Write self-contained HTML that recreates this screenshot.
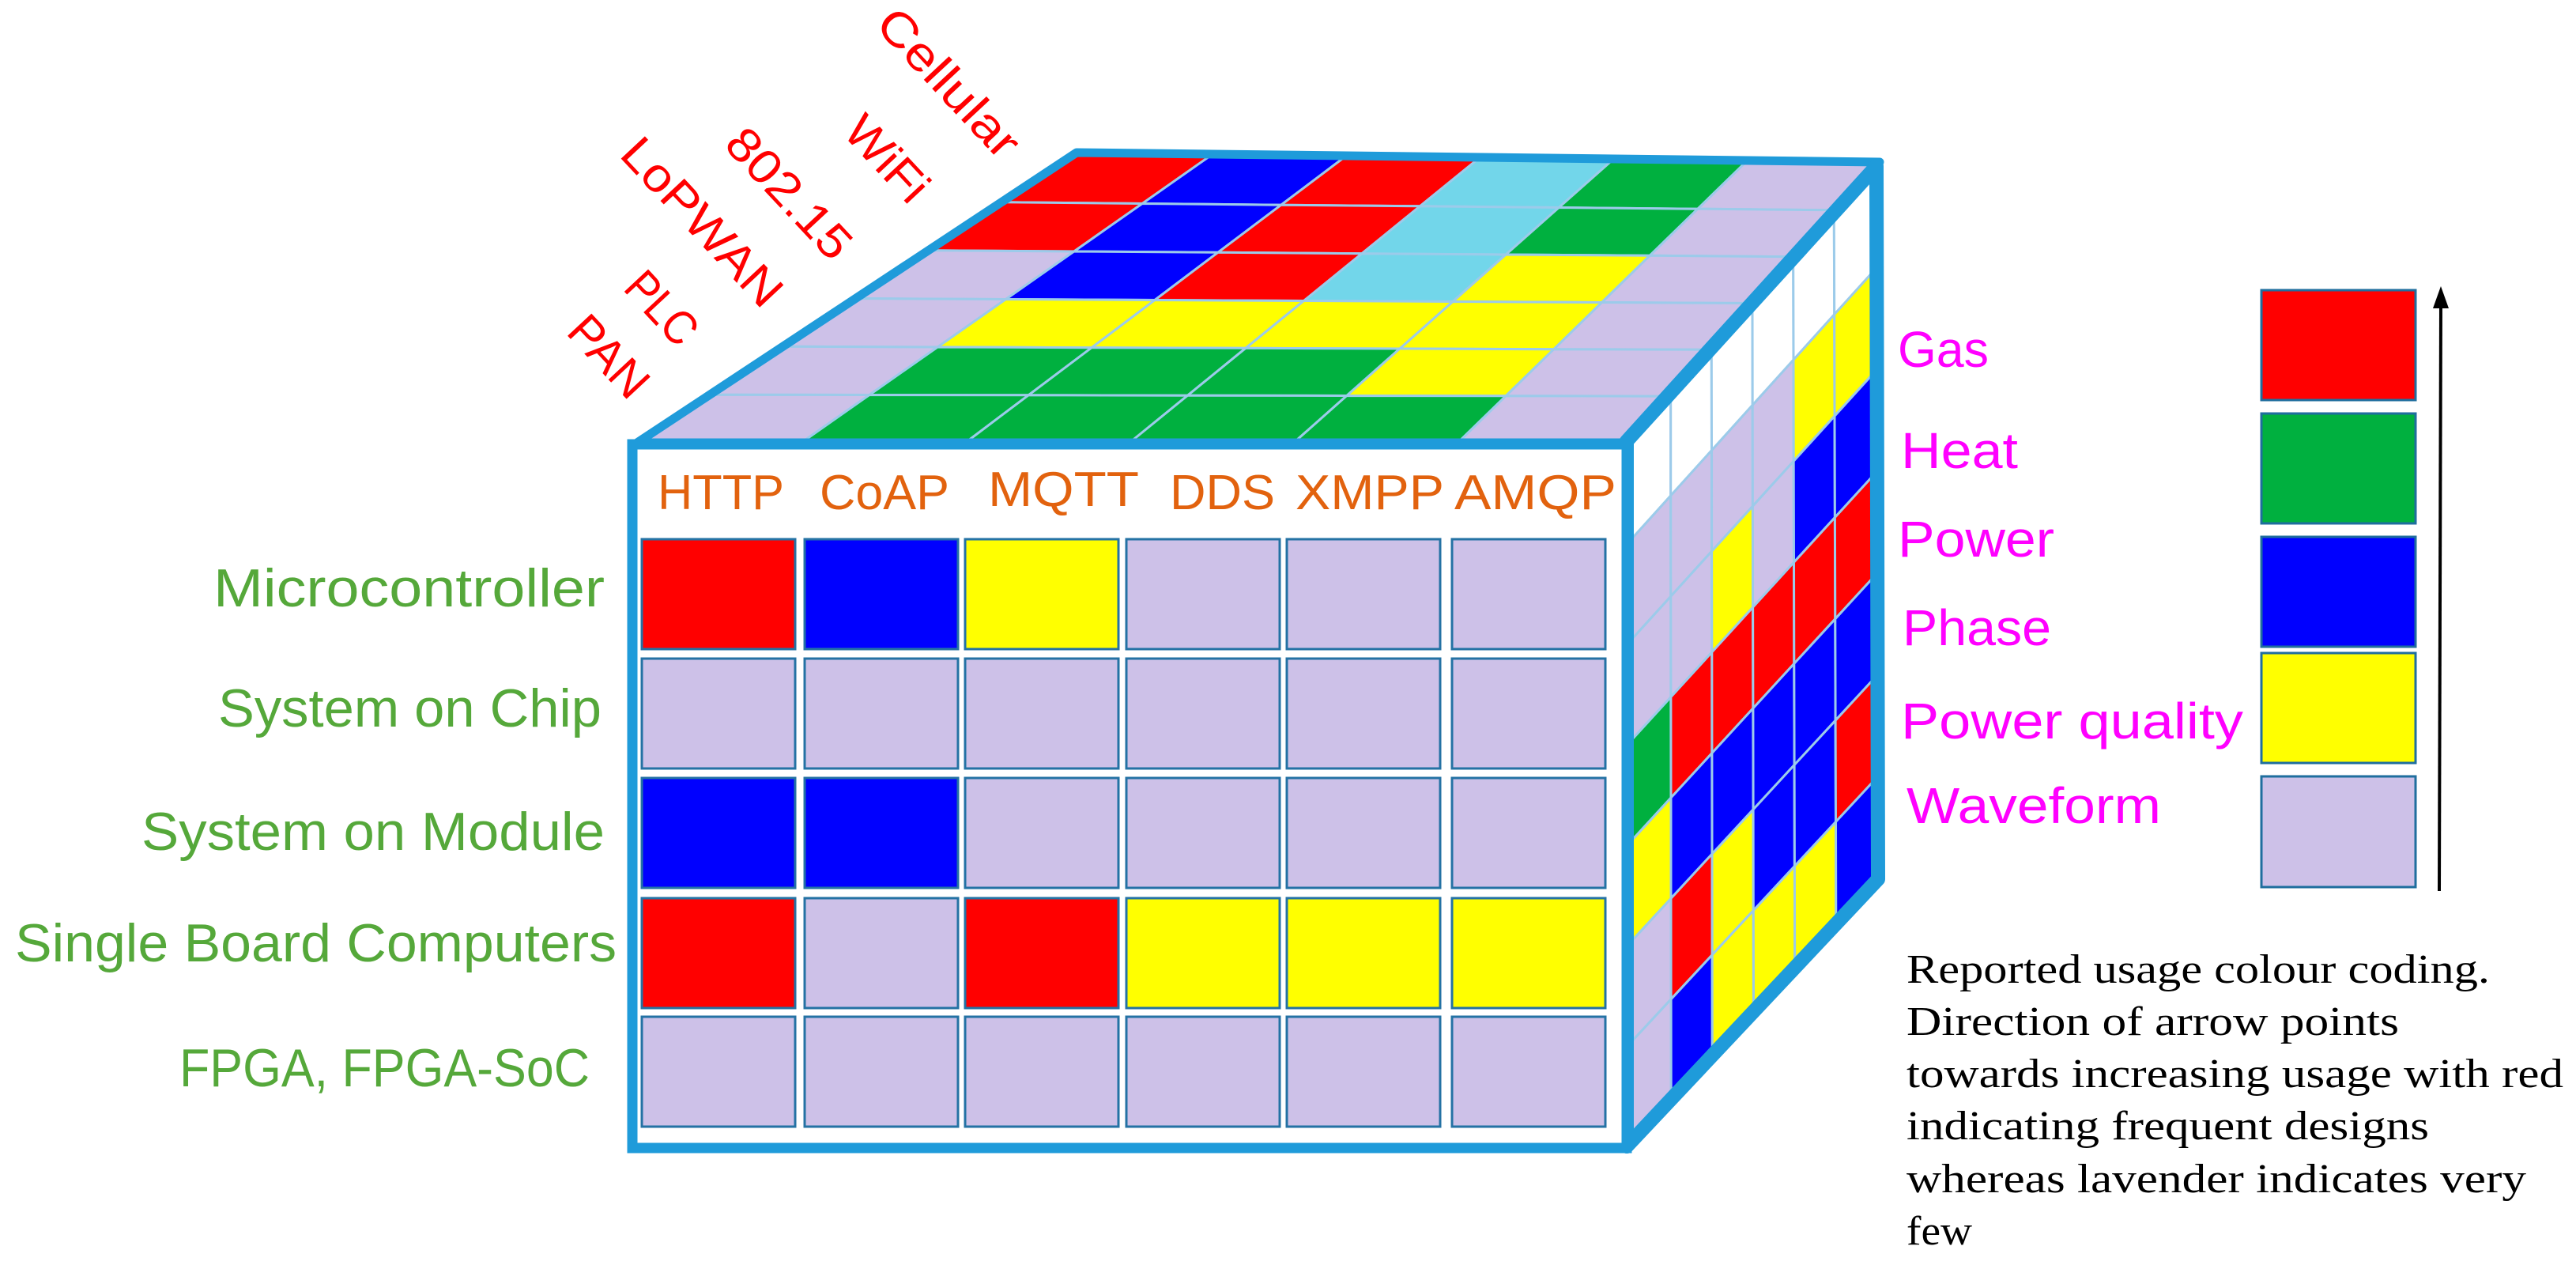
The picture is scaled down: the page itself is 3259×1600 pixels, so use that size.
<!DOCTYPE html>
<html><head><meta charset="utf-8"><style>
html,body{margin:0;padding:0;background:#fff}
svg{display:block}
.rl{font-family:"Liberation Sans",sans-serif;fill:#55A83A;font-size:68px}
.hd{font-family:"Liberation Sans",sans-serif;fill:#E2620E;font-size:62px}
.mg{font-family:"Liberation Sans",sans-serif;fill:#FF00FF;font-size:64px}
.tp{font-family:"Liberation Sans",sans-serif;fill:#FF0000;font-size:60px}
.bt{font-family:"Liberation Serif",serif;fill:#000;font-size:52px}
</style></head><body>
<svg id="s" width="3259" height="1600" viewBox="0 0 3259 1600" xmlns="http://www.w3.org/2000/svg">
<g id="topface"></g>
<g id="rightface"></g>
<polygon points="806,560 1362,193 2378,205 2052,560" fill="none" stroke="#1F9BDA" stroke-width="11" stroke-linejoin="round"/>
<polygon points="2058,558 2374,210 2376,1112 2058,1450" fill="none" stroke="#1F9BDA" stroke-width="18" stroke-linejoin="round"/>
<rect x="800" y="562" width="1258" height="890" fill="#fff" stroke="#1F9BDA" stroke-width="13"/>
<g id="frontface"></g>

<text class="hd" x="832" y="644" textLength="160" lengthAdjust="spacingAndGlyphs">HTTP</text>
<text class="hd" x="1037" y="644" textLength="164" lengthAdjust="spacingAndGlyphs">CoAP</text>
<text class="hd" x="1250" y="640" textLength="191" lengthAdjust="spacingAndGlyphs">MQTT</text>
<text class="hd" x="1480" y="644" textLength="133" lengthAdjust="spacingAndGlyphs">DDS</text>
<text class="hd" x="1639" y="644" textLength="188" lengthAdjust="spacingAndGlyphs">XMPP</text>
<text class="hd" x="1840" y="644" textLength="205" lengthAdjust="spacingAndGlyphs">AMQP</text>

<text class="rl" x="270" y="767" textLength="495" lengthAdjust="spacingAndGlyphs">Microcontroller</text>
<text class="rl" x="276" y="919" textLength="485" lengthAdjust="spacingAndGlyphs">System on Chip</text>
<text class="rl" x="179" y="1075" textLength="586" lengthAdjust="spacingAndGlyphs">System on Module</text>
<text class="rl" x="19" y="1216" textLength="761" lengthAdjust="spacingAndGlyphs">Single Board Computers</text>
<text class="rl" x="227" y="1374" textLength="519" lengthAdjust="spacingAndGlyphs">FPGA, FPGA-SoC</text>

<text class="tp" transform="translate(1200,105) rotate(47)" text-anchor="middle" dy="20" textLength="235" lengthAdjust="spacingAndGlyphs">Cellular</text>
<text class="tp" transform="translate(1122,201) rotate(47)" text-anchor="middle" dy="20" textLength="126" lengthAdjust="spacingAndGlyphs">WiFi</text>
<text class="tp" transform="translate(998,245) rotate(47)" text-anchor="middle" dy="20" textLength="203" lengthAdjust="spacingAndGlyphs">802.15</text>
<text class="tp" transform="translate(888,281) rotate(47)" text-anchor="middle" dy="20" textLength="268" lengthAdjust="spacingAndGlyphs">LoPWAN</text>
<text class="tp" transform="translate(837,390) rotate(47)" text-anchor="middle" dy="20" textLength="104" lengthAdjust="spacingAndGlyphs">PLC</text>
<text class="tp" transform="translate(770,451) rotate(47)" text-anchor="middle" dy="20" textLength="119" lengthAdjust="spacingAndGlyphs">PAN</text>

<text class="mg" x="2401" y="464" textLength="115" lengthAdjust="spacingAndGlyphs">Gas</text>
<text class="mg" x="2405" y="592" textLength="148" lengthAdjust="spacingAndGlyphs">Heat</text>
<text class="mg" x="2401" y="704" textLength="198" lengthAdjust="spacingAndGlyphs">Power</text>
<text class="mg" x="2407" y="816" textLength="188" lengthAdjust="spacingAndGlyphs">Phase</text>
<text class="mg" x="2405" y="934" textLength="433" lengthAdjust="spacingAndGlyphs">Power quality</text>
<text class="mg" x="2412" y="1041" textLength="322" lengthAdjust="spacingAndGlyphs">Waveform</text>

<g stroke="#1F6E9E" stroke-width="3">
<rect x="2861" y="367" width="195" height="139" fill="#FF0000"/>
<rect x="2861" y="523" width="195" height="139" fill="#00B03F"/>
<rect x="2861" y="679" width="195" height="139" fill="#0000FF"/>
<rect x="2861" y="826" width="195" height="139" fill="#FFFF00"/>
<rect x="2861" y="982" width="195" height="140" fill="#CDC1E8"/>
</g>
<line x1="3086" y1="1127" x2="3088" y2="385" stroke="#000" stroke-width="4"/>
<polygon points="3088,362 3078,390 3098,390" fill="#000"/>

<text class="bt" x="2412" y="1243" textLength="738" lengthAdjust="spacingAndGlyphs">Reported usage colour coding.</text>
<text class="bt" x="2412" y="1309" textLength="623" lengthAdjust="spacingAndGlyphs">Direction of  arrow points</text>
<text class="bt" x="2412" y="1375" textLength="831" lengthAdjust="spacingAndGlyphs">towards increasing usage with red</text>
<text class="bt" x="2412" y="1441" textLength="661" lengthAdjust="spacingAndGlyphs">indicating frequent designs</text>
<text class="bt" x="2412" y="1508" textLength="784" lengthAdjust="spacingAndGlyphs">whereas lavender indicates very</text>
<text class="bt" x="2412" y="1574" textLength="83" lengthAdjust="spacingAndGlyphs">few</text>
</svg>
<script>
(function(){
var NS="http://www.w3.org/2000/svg";
var COL={R:"#FF0000",B:"#0000FF",Y:"#FFFF00",L:"#CDC1E8",G:"#00B03F",C:"#72D6EA",W:"#FFFFFF"};
function poly(g,pts,fill,stroke,sw){var p=document.createElementNS(NS,"polygon");p.setAttribute("points",pts.map(function(a){return a[0].toFixed(1)+","+a[1].toFixed(1)}).join(" "));p.setAttribute("fill",fill);p.setAttribute("stroke",stroke);p.setAttribute("stroke-width",sw);g.appendChild(p);}
function bil(A,B,P,D,u,v){
 var x1=A[0]+(B[0]-A[0])*u,y1=A[1]+(B[1]-A[1])*u,x2=P[0]+(D[0]-P[0])*u,y2=P[1]+(D[1]-P[1])*u;
 return [x1+(x2-x1)*v,y1+(y2-y1)*v];}
var tp=["RBRCGL","RBRCGL","LBRCYL","LYYYYL","LGGGYL","LGGGGL"];
var tg=document.getElementById("topface");
var BL=[1362,195],BR=[2378,207],FL=[806,560],FR=[2052,560];
for(var r=0;r<6;r++)for(var c=0;c<6;c++){
 poly(tg,[bil(BL,BR,FL,FR,c/6,r/6),bil(BL,BR,FL,FR,(c+1)/6,r/6),bil(BL,BR,FL,FR,(c+1)/6,(r+1)/6),bil(BL,BR,FL,FR,c/6,(r+1)/6)],COL[tp[r][c]],"#9CCBEA",3);}
var rc=["WLLGYLL","WLLRBRB","WLYRBYY","WLLRBBY","WYBRBBY","WYBRBRB"];
var rg=document.getElementById("rightface");
var TL=[2062,557],TR=[2372,212],RBL=[2062,1447],RBR=[2375,1112];
for(var c2=0;c2<6;c2++)for(var r2=0;r2<7;r2++){
 poly(rg,[bil(TL,TR,RBL,RBR,c2/6,r2/7),bil(TL,TR,RBL,RBR,(c2+1)/6,r2/7),bil(TL,TR,RBL,RBR,(c2+1)/6,(r2+1)/7),bil(TL,TR,RBL,RBR,c2/6,(r2+1)/7)],COL[rc[c2][r2]],"#9CCBEA",3);}
var fr=["RBYLLL","LLLLLL","BBLLLL","RLRYYY","LLLLLL"];
var xs=[812,1018,1221,1425,1628,1837],ys=[682,833,984,1136,1286];
var fg=document.getElementById("frontface");
for(var r3=0;r3<5;r3++)for(var c3=0;c3<6;c3++){
 var e=document.createElementNS(NS,"rect");e.setAttribute("x",xs[c3]);e.setAttribute("y",ys[r3]);e.setAttribute("width",194);e.setAttribute("height",139);
 e.setAttribute("fill",COL[fr[r3][c3]]);e.setAttribute("stroke","#2472A4");e.setAttribute("stroke-width",3);fg.appendChild(e);}
})();
</script>
</body></html>
